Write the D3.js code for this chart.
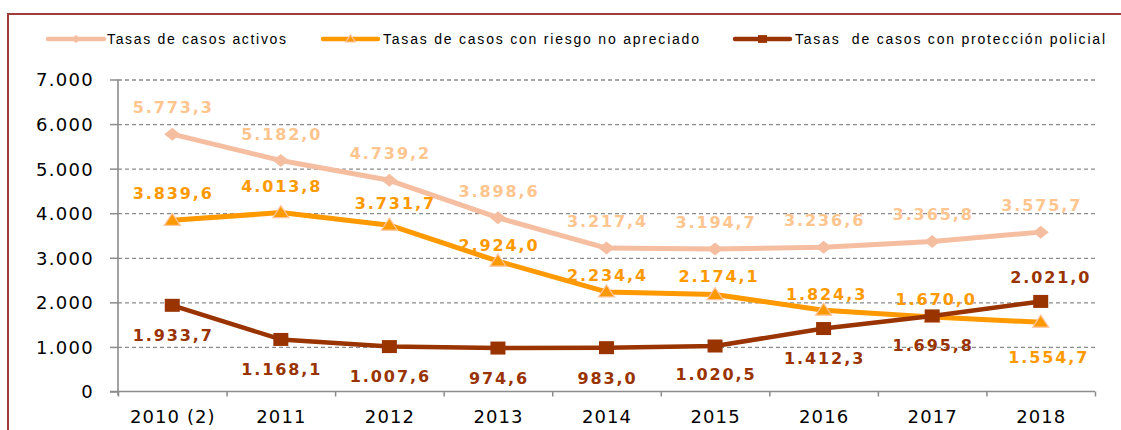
<!DOCTYPE html>
<html><head><meta charset="utf-8">
<script src="https://cdn.jsdelivr.net/npm/d3@7"></script>
<style>body{margin:0;background:#fff} svg{display:block} text{white-space:pre}</style>
</head><body><svg id="c" width="1121" height="430"></svg>
<script>
// ---- data ----
const categories = ["2010 (2)","2011","2012","2013","2014","2015","2016","2017","2018"];
const activos    = [5773.3, 5182.0, 4739.2, 3898.6, 3217.4, 3194.7, 3236.6, 3365.8, 3575.7];
const riesgo     = [3839.6, 4013.8, 3731.7, 2924.0, 2234.4, 2174.1, 1824.3, 1670.0, 1554.7];
const proteccion = [1933.7, 1168.1, 1007.6, 974.6, 983.0, 1020.5, 1412.3, 1695.8, 2021.0];
const yTicks = [0,1000,2000,3000,4000,5000,6000,7000];
const seriesNames = ["Tasas de casos activos","Tasas de casos con riesgo no apreciado","Tasas  de casos con protección policial"];

// label placement (offset from point, px)
const activosLabelDy    = [-21,-21,-21,-21,-21,-21,-21,-21,-21];
const activosLabelDx    = [0,0,0,0,0,0,0,0,0];
const riesgoLabelDy     = [-21,-21,-16,-10,-11,-13,-10,-12,41];
const riesgoLabelDx     = [0,0,5,0,0,3,2,3,7];
const proteccionLabelDy = [36,36,35,36,36,34,35,35,-18];
const proteccionLabelDx = [0,0,0,0,0,0,0,0,9];

const loc = d3.formatLocale({decimal:",", thousands:".", grouping:[3], currency:["","€"]});
const fmt1 = loc.format(",.1f"), fmt0 = loc.format(",.0f");

const svg = d3.select("#c");
const X0 = 118, X1 = 1095, Y0 = 391.5, Y1 = 79.5;
const x = d3.scaleBand().domain(categories).range([X0, X1]).padding(0);
const xEdge = d3.scaleLinear().domain([0, categories.length]).range([X0, X1]);
const y = d3.scaleLinear().domain([0, 7000]).range([Y0, Y1]);
const cx = c => x(c) + x.bandwidth()/2;

// frame
svg.append("path").attr("d", `M8,430 L8,14 L1121,14`).attr("fill","none")
  .attr("stroke","#a03c3a").attr("stroke-width",2);

// gridlines
const grid = svg.append("g").attr("transform", `translate(${X0},0)`)
  .call(d3.axisLeft(y).tickValues(yTicks.filter(v=>v>0)).tickSize(-(X1-X0)).tickFormat(""));
grid.select(".domain").remove();
grid.selectAll("line").attr("stroke","#8c8c8c").attr("stroke-width",1.3).attr("stroke-dasharray","4,3");

// y axis
const ya = svg.append("g").attr("transform", `translate(${X0},0)`)
  .call(d3.axisLeft(y).tickValues(yTicks).tickSize(8).tickPadding(16).tickFormat(fmt0));
ya.select(".domain").attr("stroke","#8c8c8c").attr("stroke-width",1.6).attr("d",`M0,${Y1}V${Y0+4}`);
ya.selectAll("line").attr("stroke","#8c8c8c").attr("stroke-width",1.5);
ya.selectAll("text").attr("font-family","DejaVu Sans").attr("font-size",18).attr("fill","#000")
  .attr("letter-spacing",1.3).attr("dy","0.36em");

// x axis line + ticks at band edges
const xe = svg.append("g").attr("transform", `translate(0,${Y0})`)
  .call(d3.axisBottom(xEdge).tickValues(d3.range(0, categories.length+1)).tickSize(5).tickFormat(""));
xe.select(".domain").attr("stroke","#8c8c8c").attr("stroke-width",1.6).attr("d",`M110,0H${X1}`);
xe.selectAll("line").attr("stroke","#8c8c8c").attr("stroke-width",1.5);
const xa = svg.append("g").attr("transform", `translate(0,${Y0})`)
  .call(d3.axisBottom(x).tickSize(0).tickPadding(19));
xa.select(".domain").remove();
xa.selectAll("text").attr("font-family","DejaVu Sans").attr("font-size",18).attr("fill","#000")
  .attr("letter-spacing",1.1).attr("dx",0.55).attr("dy","0.71em");

// series
const series = [
  {vals: activos, line:"#f5bea0", label:"#ffc58f", width:5, marker:"diamond", dy:activosLabelDy, dx:activosLabelDx},
  {vals: riesgo, line:"#ff9900", label:"#ff9900", width:5, marker:"triangle", dy:riesgoLabelDy, dx:riesgoLabelDx},
  {vals: proteccion, line:"#993300", label:"#993300", width:4.5, marker:"square", dy:proteccionLabelDy, dx:proteccionLabelDx}
];

function drawMarker(g, type, px, py, s, col) {
  if (type === "diamond") {
    g.append("path").attr("d", `M${px},${py-6.5*s} L${px+8*s},${py} L${px},${py+6.5*s} L${px-8*s},${py}Z`).attr("fill", col);
  } else if (type === "triangle") {
    g.append("path").attr("d", `M${px},${py-7*s} L${px+8*s},${py+5*s} L${px-8*s},${py+5*s}Z`)
      .attr("fill", "#ff9900").attr("stroke","#ffc39a").attr("stroke-width",1.2);
  } else {
    g.append("rect").attr("x", px-7.5*s).attr("y", py-6.5*s).attr("width", 15*s).attr("height", 13*s).attr("fill", col);
  }
}

const line = d3.line().x((d,i)=>cx(categories[i])).y(d=>y(d));
series.forEach(s => {
  svg.append("path").datum(s.vals).attr("d", line).attr("fill","none")
    .attr("stroke", s.line).attr("stroke-width", s.width).attr("stroke-linejoin","round");
  const g = svg.append("g");
  s.vals.forEach((v,i) => drawMarker(g, s.marker, cx(categories[i]), y(v), 1, s.line));
});

// labels
series.forEach(s => {
  svg.append("g").selectAll("text").data(s.vals).join("text")
    .attr("x", (d,i) => cx(categories[i]) + s.dx[i] + 1)
    .attr("y", (d,i) => y(d) + s.dy[i])
    .attr("text-anchor","middle").attr("font-family","DejaVu Sans").attr("font-weight","bold")
    .attr("font-size",16).attr("letter-spacing",1.9).attr("fill", s.label)
    .text(d => fmt1(d));
});

// legend
const legendItems = [
  {name: seriesNames[0], x0:48, x1:104, tx:107, tl:179, s:series[0]},
  {name: seriesNames[1], x0:323, x1:378, tx:383, tl:316, s:series[1]},
  {name: seriesNames[2], x0:735, x1:790, tx:795, tl:310, s:series[2]}
];
const lg = svg.append("g");
legendItems.forEach(it => {
  lg.append("line").attr("x1",it.x0).attr("x2",it.x1).attr("y1",39).attr("y2",39)
    .attr("stroke", it.s.line).attr("stroke-width",4.5).attr("stroke-linecap","round");
  drawMarker(lg, it.s.marker, (it.x0+it.x1)/2, 39, 0.6, it.s.line);
  lg.append("text").attr("x", it.tx).attr("y", 44).attr("font-family","Liberation Sans")
    .attr("font-size",14).attr("fill","#000")
    .attr("textLength", it.tl).attr("lengthAdjust","spacing").text(it.name);
});
</script></body></html>
